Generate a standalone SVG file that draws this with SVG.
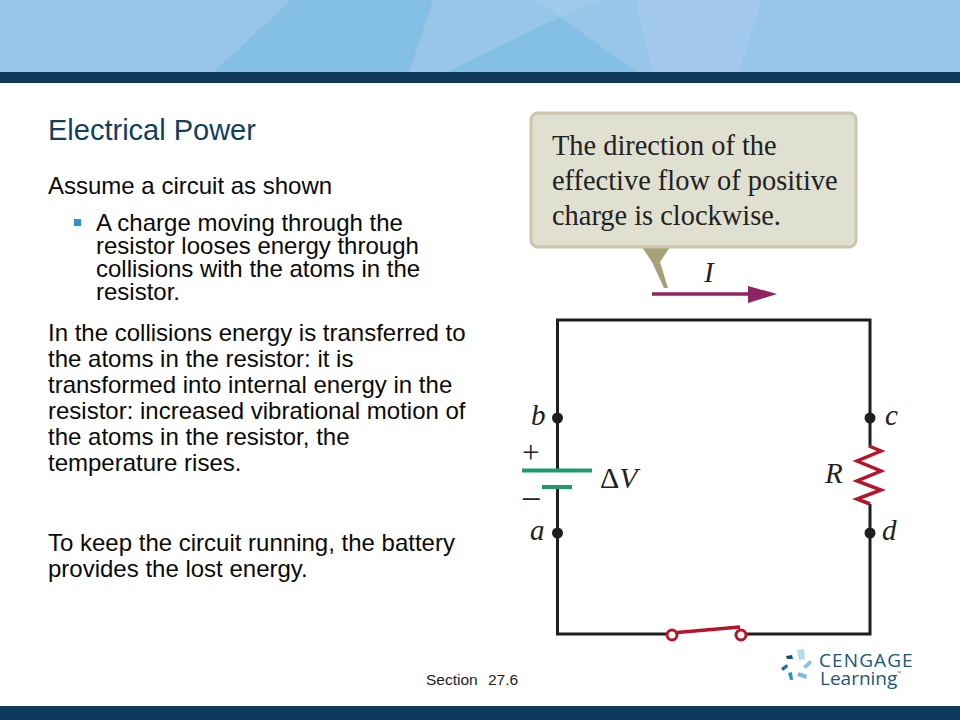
<svg xmlns="http://www.w3.org/2000/svg" width="960" height="720" viewBox="0 0 960 720">
<style>
.body{font-family:"Liberation Sans",Arial,sans-serif;font-size:24px;fill:#0a0a0a}
.serif{font-family:"Liberation Serif","Times New Roman",serif;fill:#222}
.it{font-style:italic;font-size:29px}
.wire{fill:none;stroke:#1f1f1f;stroke-width:3}
.dot{fill:#1f1f1f}
.bat{stroke:#1f9a6c;stroke-width:4;fill:none}
.red{fill:none;stroke:#b5152b;stroke-width:3.500}
.logo{font-family:"Open Sans","Liberation Sans",sans-serif;fill:#1d5678}
</style>
<rect width="960" height="720" fill="#fff"/>
<g id="header">
<rect width="960" height="72" fill="#97c6e8"/>
<polygon points="291,0 433,0 409,72 214,72" fill="#84bfe6"/>
<polygon points="447,72 560,17 636,72" fill="#84bfe6"/>
<polygon points="538,0 600,0 560,17" fill="#9fcaea"/>
<polygon points="636,0 762,0 739,72 653,72" fill="#a3caec"/>
<rect y="72" width="960" height="11" fill="#0f3a5c"/>
</g>
<rect id="footer" y="706" width="960" height="14" fill="#0f3a5c"/>
<text id="title" x="48" y="139.500" font-family="Liberation Sans,Arial,sans-serif" font-size="29" fill="#123f5f">Electrical Power</text>
<g id="bodytext" class="body">
<text x="48" y="194">Assume a circuit as shown</text>
<rect x="74" y="219" width="7" height="7" fill="#2a97c9"/>
<text x="96" y="231">A charge moving through the</text>
<text x="96" y="254">resistor looses energy through</text>
<text x="96" y="277">collisions with the atoms in the</text>
<text x="96" y="300">resistor.</text>
<text x="48" y="341">In the collisions energy is transferred to</text>
<text x="48" y="367">the atoms in the resistor: it is</text>
<text x="48" y="393">transformed into internal energy in the</text>
<text x="48" y="419">resistor: increased vibrational motion of</text>
<text x="48" y="445">the atoms in the resistor, the</text>
<text x="48" y="471">temperature rises.</text>
<text x="48" y="551">To keep the circuit running, the battery</text>
<text x="48" y="577">provides the lost energy.</text>
</g>
<text id="section" y="685" font-family="Liberation Sans,Arial,sans-serif" font-size="15.500" fill="#222"><tspan x="426">Section</tspan> <tspan x="488">27.6</tspan></text>
<g id="callout">
<polygon points="642,247 670,247 660,262 668,288 664,288 652,262" fill="#a5a27a"/>
<rect x="531" y="113" width="325" height="134" rx="7" fill="#e0e0d1" stroke="#c9c6a9" stroke-width="3"/>
<g class="serif" font-size="28.400">
<text x="552" y="155">The direction of the</text>
<text x="552" y="190">effective flow of positive</text>
<text x="552" y="225">charge is clockwise.</text>
</g>
</g>
<g id="current">
<path d="M652 294H755" stroke="#8f2463" stroke-width="3.500" fill="none"/>
<polygon points="748,286 777,294 748,303" fill="#8f2463"/>
<text class="serif it" x="704" y="282">I</text>
</g>
<g id="connectors">
<path class="wire" d="M557.500 470V320H870V447M870 504V634H743M670 634H557.500V487"/>
</g>
<g id="node-b"><circle class="dot" cx="557.500" cy="418" r="5.500"/><text class="serif it" x="531" y="425">b</text></g>
<g id="node-a"><circle class="dot" cx="557.500" cy="533" r="5.500"/><text class="serif it" x="530" y="540">a</text></g>
<g id="node-c"><circle class="dot" cx="870" cy="418" r="5.500"/><text class="serif it" x="885" y="425">c</text></g>
<g id="node-d"><circle class="dot" cx="870" cy="533" r="5.500"/><text class="serif it" x="882" y="540">d</text></g>
<g id="battery">
<path class="bat" d="M522 470.500H592M542 487H572"/>
<text class="serif" x="522" y="463" font-size="31">+</text>
<text class="serif" x="523" y="507" font-size="33">–</text>
<text class="serif" x="600" y="488" font-size="30">Δ<tspan font-style="italic">V</tspan></text>
</g>
<g id="resistor">
<path class="red" d="M869 446L881 451L857 461L881 471L857 481L881 490L857 499L870 504"/>
<text class="serif it" x="825" y="483">R</text>
</g>
<g id="switch">
<path class="red" d="M677 632.500L740 627"/>
<circle cx="672" cy="635" r="5" fill="#fff" stroke="#b5152b" stroke-width="3"/>
<circle cx="741" cy="635" r="5" fill="#fff" stroke="#b5152b" stroke-width="3"/>
</g>
<g id="logo">
<polygon points="797,650 804,649 805,659 799,660" fill="#b5dbef"/>
<polygon points="803,666 810,660 812,663 806,669" fill="#8cc4e4"/>
<polygon points="799,672 807,675 806,679 797,676" fill="#7bbde0"/>
<polygon points="788,673 792,672 793,680 790,680" fill="#2a97c9"/>
<polygon points="781,668 787,664 788,667 783,671" fill="#1f6f9c"/>
<polygon points="786,656 792,655 793,659 787,659" fill="#15517d"/>
<text class="logo" x="819" y="667" font-size="19" letter-spacing="1.100">CENGAGE</text>
<text class="logo" x="820" y="685" font-size="19">Learning<tspan font-size="5" dy="-10">™</tspan></text>
</g>
</svg>
